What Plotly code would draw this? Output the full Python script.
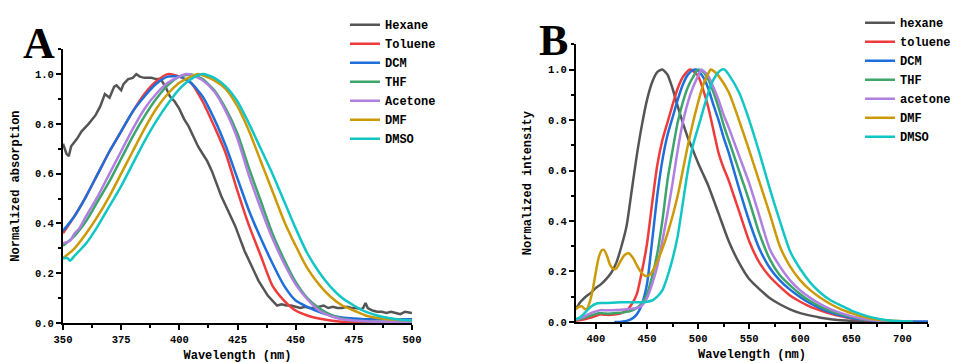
import plotly.graph_objects as go

# ---------------- Panel A: normalized absorption ----------------
a_hexane_x = [350, 351.5, 352.5, 353.5, 356, 358, 361, 364, 366, 368, 370, 372, 373, 375, 376, 378, 380,
              381.5, 383, 385, 388, 390, 392, 394, 396, 398, 400, 402, 404, 406, 408, 410, 412, 414, 416,
              418, 420, 422, 424, 426, 428, 430, 432, 434, 436, 438, 440, 442, 444, 446, 448, 450, 452,
              454, 456, 458, 460, 462, 464, 466, 468, 470, 472, 474, 476, 478, 479, 480, 481, 483, 485,
              487, 489, 491, 493, 495, 497, 499, 500]
a_hexane_y = [0.72, 0.68, 0.67, 0.71, 0.74, 0.77, 0.80, 0.835, 0.87, 0.92, 0.905, 0.95, 0.955, 0.935, 0.96,
              0.98, 0.985, 1.0, 0.99, 0.985, 0.985, 0.98, 0.98, 0.95, 0.91, 0.89, 0.86, 0.82, 0.79, 0.75,
              0.71, 0.68, 0.65, 0.61, 0.56, 0.51, 0.47, 0.43, 0.39, 0.34, 0.29, 0.25, 0.21, 0.17, 0.14,
              0.11, 0.09, 0.07, 0.075, 0.07, 0.07, 0.065, 0.06, 0.065, 0.06, 0.06, 0.065, 0.07, 0.06,
              0.065, 0.06, 0.06, 0.065, 0.06, 0.06, 0.055, 0.06, 0.08, 0.06, 0.05, 0.045, 0.045, 0.04,
              0.045, 0.04, 0.035, 0.045, 0.04, 0.04]

a_wl = [350, 355, 360, 365, 370, 375, 380, 385, 390, 395, 400, 405, 410, 415, 420, 425, 430, 435, 440,
        445, 450, 455, 460, 465, 470, 475, 480, 485, 490, 495, 500]
a_toluene_y = [0.36, 0.43, 0.51, 0.60, 0.69, 0.77, 0.85, 0.92, 0.97, 1.0, 0.99, 0.965, 0.89, 0.79, 0.68,
               0.53, 0.39, 0.27, 0.15, 0.09, 0.05, 0.03, 0.018, 0.01, 0.005, 0.003, 0.002, 0.001, 0.001,
               0.0, 0.0]
a_dcm_y = [0.37, 0.43, 0.51, 0.60, 0.69, 0.77, 0.85, 0.91, 0.96, 0.99, 0.99, 0.965, 0.91, 0.82, 0.71,
           0.58, 0.45, 0.34, 0.24, 0.15, 0.09, 0.065, 0.045, 0.03, 0.022, 0.018, 0.015, 0.015, 0.015,
           0.015, 0.015]
a_thf_y = [0.31, 0.35, 0.41, 0.49, 0.57, 0.66, 0.75, 0.83, 0.90, 0.955, 0.99, 0.998, 0.98, 0.935, 0.86,
           0.76, 0.62, 0.49, 0.36, 0.255, 0.165, 0.10, 0.06, 0.033, 0.018, 0.01, 0.007, 0.005, 0.004,
           0.003, 0.003]
a_acetone_x = [350, 353, 355, 357, 360, 365, 370, 375, 380, 385, 390, 395, 400, 403, 405, 410, 415, 420,
               425, 430, 435, 440, 445, 450, 455, 460, 465, 470, 475, 480, 485, 490, 495, 500]
a_acetone_y = [0.32, 0.33, 0.36, 0.38, 0.43, 0.51, 0.60, 0.69, 0.78, 0.86, 0.92, 0.965, 0.99, 1.0, 0.998,
               0.975, 0.93, 0.85, 0.74, 0.59, 0.46, 0.34, 0.24, 0.155, 0.095, 0.05, 0.028, 0.015, 0.01,
               0.007, 0.005, 0.005, 0.005, 0.005]
a_dmf_x = [350, 355, 360, 365, 370, 375, 380, 385, 390, 395, 400, 405, 408, 410, 415, 420, 425, 430, 435,
           440, 445, 450, 455, 460, 465, 470, 475, 480, 485, 490, 495, 500]
a_dmf_y = [0.26, 0.30, 0.36, 0.43, 0.51, 0.60, 0.69, 0.78, 0.86, 0.92, 0.965, 0.99, 1.0, 0.995, 0.975,
           0.94, 0.87, 0.77, 0.65, 0.53, 0.41, 0.31, 0.22, 0.155, 0.105, 0.07, 0.05, 0.03, 0.02, 0.015,
           0.012, 0.01]
a_dmso_x = [350, 352, 353, 355, 360, 365, 370, 375, 380, 385, 390, 395, 400, 405, 410, 415, 420, 425, 430,
            435, 440, 445, 450, 455, 460, 465, 470, 475, 480, 485, 490, 495, 500]
a_dmso_y = [0.26, 0.26, 0.25, 0.27, 0.32, 0.39, 0.47, 0.55, 0.64, 0.73, 0.81, 0.88, 0.94, 0.98, 1.0,
            0.985, 0.95, 0.89, 0.80, 0.70, 0.60, 0.49, 0.38, 0.28, 0.205, 0.145, 0.10, 0.07, 0.045,
            0.03, 0.02, 0.013, 0.01]

# ---------------- Panel B: normalized emission intensity ----------------
b_hexane_x = [380, 385, 390, 395, 400, 405, 410, 415, 420, 425, 430, 435, 440, 445, 450, 455, 460, 465,
              470, 475, 480, 485, 490, 495, 500, 505, 510, 520, 530, 540, 550, 560, 570, 580, 590, 600,
              610, 620, 630, 640, 650, 660, 680, 700]
b_hexane_y = [0.05, 0.08, 0.10, 0.115, 0.135, 0.15, 0.17, 0.195, 0.235, 0.30, 0.38, 0.52, 0.66, 0.78,
              0.88, 0.95, 0.99, 1.0, 0.98, 0.925, 0.855, 0.79, 0.73, 0.68, 0.63, 0.585, 0.54, 0.43, 0.32,
              0.235, 0.17, 0.13, 0.095, 0.07, 0.05, 0.035, 0.025, 0.017, 0.011, 0.007, 0.004, 0.002,
              0.001, 0.0]
b_toluene_x = [380, 385, 390, 395, 400, 405, 410, 415, 420, 425, 430, 435, 440, 445, 450, 455, 460, 465,
               470, 475, 480, 485, 490, 492, 495, 500, 505, 510, 515, 520, 525, 530, 535, 540, 550, 560,
               570, 580, 590, 600, 610, 620, 630, 640, 650, 660, 670, 680, 700, 725]
b_toluene_y = [0.005, 0.008, 0.012, 0.017, 0.024, 0.03, 0.028, 0.028, 0.03, 0.035, 0.045, 0.07, 0.11,
               0.20, 0.31, 0.47, 0.62, 0.72, 0.79, 0.86, 0.925, 0.97, 0.995, 1.0, 0.995, 0.975, 0.92,
               0.85, 0.76, 0.67, 0.61, 0.56, 0.50, 0.44, 0.32, 0.235, 0.18, 0.14, 0.105, 0.08, 0.06,
               0.045, 0.032, 0.022, 0.014, 0.009, 0.005, 0.003, 0.001, 0.0]
b_dcm_x = [418, 420, 425, 430, 435, 440, 445, 450, 455, 460, 465, 470, 475, 480, 485, 490, 495, 498, 500,
           505, 510, 515, 520, 525, 530, 540, 550, 560, 570, 580, 590, 600, 610, 620, 630, 640, 650, 660,
           670, 680, 690, 700, 725]
b_dcm_y = [0.0, 0.0, 0.001, 0.004, 0.012, 0.03, 0.07, 0.15, 0.32, 0.50, 0.64, 0.74, 0.81, 0.88, 0.94,
           0.98, 0.998, 1.0, 0.995, 0.97, 0.925, 0.86, 0.80, 0.73, 0.67, 0.53, 0.40, 0.29, 0.215, 0.165,
           0.128, 0.098, 0.073, 0.053, 0.037, 0.025, 0.016, 0.01, 0.006, 0.004, 0.003, 0.002, 0.002]
b_thf_x = [380, 385, 390, 395, 400, 405, 410, 420, 430, 435, 440, 445, 450, 455, 460, 465, 470, 475, 480,
           485, 490, 495, 500, 505, 510, 515, 520, 525, 530, 540, 550, 560, 570, 580, 590, 600, 610, 620,
           630, 640, 650, 660, 670, 680, 700]
b_thf_y = [0.01, 0.012, 0.018, 0.025, 0.032, 0.035, 0.033, 0.035, 0.04, 0.045, 0.055, 0.075, 0.11, 0.18,
           0.27, 0.40, 0.56, 0.68, 0.79, 0.87, 0.93, 0.97, 1.0, 0.99, 0.96, 0.91, 0.85, 0.78, 0.72, 0.60,
           0.48, 0.35, 0.25, 0.185, 0.145, 0.11, 0.082, 0.06, 0.043, 0.03, 0.02, 0.012, 0.007, 0.004,
           0.001]
b_acetone_x = [380, 385, 390, 395, 400, 405, 410, 420, 430, 440, 445, 450, 455, 460, 465, 470, 475, 480,
               485, 490, 495, 500, 503, 505, 510, 515, 520, 525, 530, 540, 550, 560, 570, 580, 590, 600,
               610, 620, 630, 640, 650, 660, 670, 680, 700]
b_acetone_y = [0.01, 0.015, 0.025, 0.035, 0.042, 0.047, 0.046, 0.047, 0.05, 0.055, 0.065, 0.095, 0.15,
               0.22, 0.32, 0.43, 0.55, 0.68, 0.79, 0.87, 0.93, 0.975, 1.0, 0.995, 0.975, 0.93, 0.88,
               0.82, 0.77, 0.66, 0.55, 0.42, 0.29, 0.22, 0.165, 0.125, 0.095, 0.07, 0.05, 0.035, 0.023,
               0.014, 0.008, 0.005, 0.002]
b_dmf_x = [380, 383, 386, 389, 391, 394, 397, 400, 403, 406, 408, 411, 414, 417, 420, 424, 428, 432, 436,
           440, 444, 448, 452, 456, 460, 465, 470, 475, 480, 485, 490, 495, 500, 505, 510, 512, 515, 520,
           530, 540, 550, 560, 570, 580, 590, 600, 610, 620, 630, 640, 650, 660, 670, 680, 690, 700, 710]
b_dmf_y = [0.05, 0.06, 0.062, 0.052, 0.05, 0.08, 0.13, 0.20, 0.26, 0.285, 0.285, 0.26, 0.225, 0.21,
           0.212, 0.24, 0.265, 0.272, 0.255, 0.225, 0.198, 0.183, 0.185, 0.205, 0.24, 0.29, 0.35, 0.42,
           0.50, 0.60, 0.70, 0.79, 0.87, 0.94, 0.985, 1.0, 0.995, 0.975, 0.91, 0.80, 0.68, 0.555, 0.43,
           0.30, 0.22, 0.165, 0.125, 0.095, 0.07, 0.05, 0.035, 0.022, 0.013, 0.008, 0.005, 0.003, 0.001]
b_dmso_x = [380, 385, 390, 395, 400, 405, 410, 420, 430, 440, 450, 455, 460, 465, 470, 475, 480, 485,
            490, 495, 500, 505, 510, 515, 520, 523, 526, 530, 540, 550, 560, 570, 580, 590, 600, 610,
            620, 630, 640, 650, 660, 670, 680, 690, 700, 710]
b_dmso_y = [0.01, 0.02, 0.04, 0.06, 0.072, 0.075, 0.075, 0.077, 0.078, 0.078, 0.08, 0.085, 0.10, 0.125,
            0.18, 0.25, 0.34, 0.47, 0.60, 0.70, 0.77, 0.84, 0.91, 0.96, 0.99, 1.0, 1.0, 0.98, 0.91, 0.80,
            0.67, 0.53, 0.40, 0.28, 0.21, 0.155, 0.115, 0.085, 0.065, 0.045, 0.03, 0.018, 0.01, 0.005,
            0.003, 0.002]

a_names = ["Hexane", "Toluene", "DCM", "THF", "Acetone", "DMF", "DMSO"]
b_names = ["hexane", "toluene", "DCM", "THF", "acetone", "DMF", "DMSO"]
colors = ["#555555", "#EE3B3B", "#1F6FDB", "#3BA56C", "#B07FE0", "#CC9A06", "#12C6C6"]

a_series = [(a_hexane_x, a_hexane_y), (a_wl, a_toluene_y), (a_wl, a_dcm_y), (a_wl, a_thf_y),
            (a_acetone_x, a_acetone_y), (a_dmf_x, a_dmf_y), (a_dmso_x, a_dmso_y)]
b_series = [(b_hexane_x, b_hexane_y), (b_toluene_x, b_toluene_y), (b_dcm_x, b_dcm_y), (b_thf_x, b_thf_y),
            (b_acetone_x, b_acetone_y), (b_dmf_x, b_dmf_y), (b_dmso_x, b_dmso_y)]

FONT = "Liberation Mono"
SERIF = "Liberation Serif"
fig = go.Figure()
for i, (name, (x, y)) in enumerate(zip(a_names, a_series)):
    fig.add_trace(go.Scatter(x=x, y=y, name=name, mode="lines", xaxis="x", yaxis="y", legend="legend",
                             line=dict(color=colors[i], width=2.5,
                                       shape="linear" if i == 0 else "spline", smoothing=0.6)))
for i, (name, (x, y)) in enumerate(zip(b_names, b_series)):
    fig.add_trace(go.Scatter(x=x, y=y, name=name, mode="lines", xaxis="x2", yaxis="y2", legend="legend2",
                             line=dict(color=colors[i], width=2.5, shape="spline", smoothing=0.6)))

# the page body has an 8 px margin, so the figure is 8 px smaller and positions are shifted by 8 px
OFF = 8
W, H = 958 - OFF, 363 - OFF

def px(x):
    return (x - OFF) / W

def py(y):
    return 1 - (y - OFF) / H

tickfont = dict(family=FONT, size=10.5, color="black", weight="bold")
titlefont = dict(family=FONT, size=12, color="black", weight="bold")

def xax(domain, rng, dtick, mdtick, tick0, anchor):
    return dict(domain=domain, range=rng, dtick=dtick, tick0=tick0, automargin=False,
                anchor=anchor, showline=True, linecolor="black", linewidth=2, ticks="outside",
                ticklen=5, tickwidth=2, tickcolor="black", showgrid=False, zeroline=False,
                tickfont=tickfont, title=dict(text="Wavelength (nm)", font=titlefont, standoff=6),
                minor=dict(dtick=mdtick, ticks="outside", ticklen=3, tickwidth=1.5, tickcolor="black",
                           showgrid=False))

def yax(domain, title, anchor, standoff):
    return dict(domain=domain, range=[0, 1.1], dtick=0.2, tick0=0, tickformat=".1f", anchor=anchor,
                automargin=False,
                showline=True, linecolor="black", linewidth=2, ticks="outside", ticklen=5, tickwidth=2,
                tickcolor="black", showgrid=False, zeroline=False, tickfont=tickfont,
                title=dict(text=title, font=titlefont, standoff=standoff),
                minor=dict(dtick=0.1, ticks="outside", ticklen=3, tickwidth=1.5, tickcolor="black",
                           showgrid=False))

legfont = dict(family=FONT, size=12, color="black", weight="bold")
fig.update_layout(
    width=W, height=H, margin=dict(l=0, r=0, t=0, b=0),
    paper_bgcolor="white", plot_bgcolor="white", showlegend=True,
    xaxis=xax([px(63), px(412)], [350, 500], 25, 12.5, 350, "y"),
    yaxis=yax([py(322), py(42)], "Normalized absorption", "x", 13),
    xaxis2=xax([px(576), px(928)], [380.5, 725], 50, 25, 400, "y2"),
    yaxis2=yax([py(321), py(37)], "Normalized intensity", "x2", 14),
    legend=dict(x=337 / W, y=1 + 6 / H, xanchor="left", yanchor="top", font=legfont,
                bgcolor="rgba(0,0,0,0)", itemwidth=30, tracegroupgap=0),
    legend2=dict(x=852 / W, y=1 + 8 / H, xanchor="left", yanchor="top", font=legfont,
                 bgcolor="rgba(0,0,0,0)", itemwidth=30, tracegroupgap=0),
    annotations=[
        dict(text="A", x=px(39), y=py(36), xref="paper", yref="paper", showarrow=False,
             xanchor="center", yanchor="middle",
             font=dict(family=SERIF, size=44, color="black", weight="bold")),
        dict(text="B", x=px(553), y=py(33), xref="paper", yref="paper", showarrow=False,
             xanchor="center", yanchor="middle",
             font=dict(family=SERIF, size=44, color="black", weight="bold")),
    ],
)
fig.write_html("out.html")
